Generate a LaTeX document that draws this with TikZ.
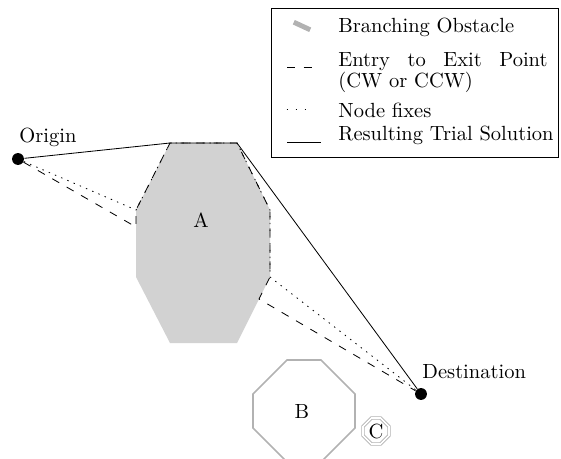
\documentclass[tikz,border=0pt]{standalone}
\usepackage{amsmath}
\usepackage{tikz}
\usetikzlibrary{positioning}

\begin{document}
\begin{tikzpicture}[x=0.4878pt,y=-0.4878pt,
  obstacle/.style={fill=gray!35},
  sideobst/.style={draw=gray!60,line width=0.8pt},
  waypt/.style={circle,fill=black,inner sep=0pt,minimum size=5.8pt},
  entryexit/.style={dash pattern=on 3.9pt off 4.2pt},
  fixline/.style={dash pattern=on 0.7pt off 2.6pt},
  trial/.style={solid},
  keytext/.style={anchor=base west,inner sep=0pt}]
\useasboundingbox (0,0) rectangle (561,459);
% obstacle A (branching)
\coordinate (a-nw) at (170,143);
\coordinate (a-ne) at (237,143);
\coordinate (a-en) at (270,210);
\coordinate (a-es) at (270,277);
\coordinate (a-se) at (237,343);
\coordinate (a-sw) at (170,343);
\coordinate (a-ws) at (136,277);
\coordinate (a-wn) at (136,210);
\coordinate (entry) at (136,227);
\coordinate (exit) at (259,299);
\fill[obstacle] (a-nw) -- (a-ne) -- (a-en) -- (a-es) -- (a-se) -- (a-sw) -- (a-ws) -- (a-wn) -- cycle;
\node[inner sep=0pt,anchor=base] (labA) at (201,227) {A};
% obstacles B and C
\draw[sideobst] (287,360) -- (321,360) -- (355,394) -- (355,428) -- (321,462) -- (287,462) -- (253,428) -- (253,394) -- cycle;
\node[inner sep=0pt,anchor=base] (labB) at (302,418) {B};
\draw[draw=gray!60,double=white,double distance=0.8pt] (371.5,418) -- (380.5,418) -- (389,426.5) -- (389,435.5) -- (380.5,444) -- (371.5,444) -- (363,435.5) -- (363,426.5) -- cycle;
\node[inner sep=0pt] (labC) at (376,431) {C};
% end points
\node[waypt] (orig) at (18,159) {};
\node[waypt] (dest) at (421,394) {};
\node[keytext] (origlab) at (19,142) {Origin};
\node[keytext] (destlab) at (422,378) {Destination};
% routes
\draw[entryexit] (orig) -- (entry) -- (a-wn) -- (a-nw) -- (a-ne) -- (a-en) -- (a-es) -- (exit) -- (dest);
\draw[fixline] (orig) -- (a-wn) -- (a-nw) -- (a-ne) -- (a-en) -- (a-es) -- (dest);
\draw[trial] (orig) -- (a-nw) -- (a-ne) -- (dest);
% legend
\draw (271,8) rectangle (558,157);
\coordinate (k1a) at (293.8,22.2); \coordinate (k1b) at (310.2,29.8);
\coordinate (k2a) at (287,67);  \coordinate (k2b) at (312,67);
\coordinate (k3a) at (286.5,109); \coordinate (k3b) at (307,109);
\coordinate (k4a) at (287,142); \coordinate (k4b) at (321,142);
\draw[gray!60,line width=2.4pt] (k1a) -- (k1b);
\draw[entryexit] (k2a) -- (k2b);
\draw[dash pattern=on 0.7pt off 3.7pt] (k3a) -- (k3b);
\draw[trial] (k4a) -- (k4b);
\node[keytext] (key1) at (338,33) {Branching Obstacle};
\node[keytext] (key2) at (338,67) {\makebox[102pt][s]{Entry to Exit Point}};
\node[keytext] (key2b) at (338,87) {(CW or CCW)};
\node[keytext] (key3) at (338,117) {Node fixes};
\node[keytext] (key4) at (338,140) {Resulting Trial Solution};
\end{tikzpicture}
\end{document}
